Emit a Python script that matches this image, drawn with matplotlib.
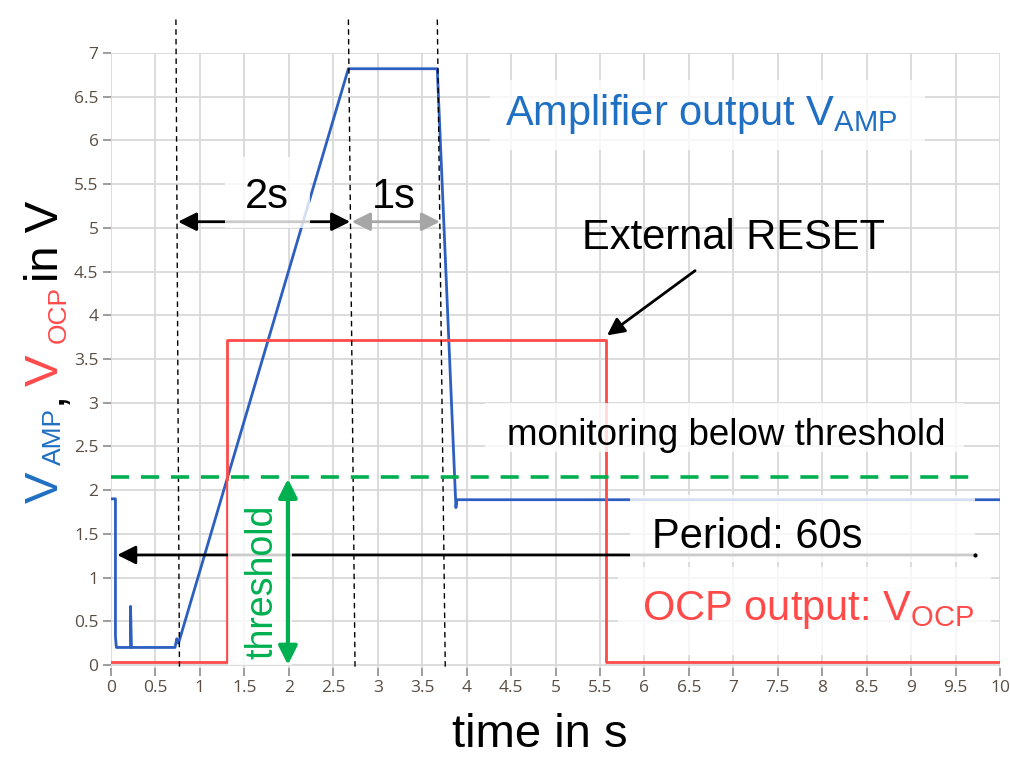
import matplotlib
matplotlib.use('Agg')
import matplotlib.pyplot as plt
from matplotlib.patches import Rectangle

plt.rcParams['font.family'] = ['Liberation Sans', 'DejaVu Sans']
plt.rcParams['mathtext.fontset'] = 'custom'
plt.rcParams['mathtext.rm'] = 'Liberation Sans'
plt.rcParams['mathtext.it'] = 'Liberation Sans:italic'

# amplifier output V_AMP (blue trace)
t_amp = [0, 0.05, 0.05, 0.06, 0.22, 0.22, 0.23, 0.72, 0.74, 0.76, 2.67, 3.67, 3.88, 3.89, 10]
v_amp = [1.9, 1.9, 0.33, 0.2, 0.2, 0.67, 0.2, 0.2, 0.3, 0.25, 6.82, 6.82, 1.8, 1.89, 1.89]

# OCP output V_OCP (red trace)
t_ocp = [0, 1.31, 1.31, 5.57, 5.57, 10]
v_ocp = [0.03, 0.03, 3.72, 3.72, 0.03, 0.03]

threshold = 2.15
# dashed time markers (top / bottom x, slightly slanted in the original)
mark_top = [0.73, 2.67, 3.67]
mark_bot = [0.77, 2.745, 3.76]

blue = '#2d5fc0'
blue_txt = '#1f6fc2'
red = '#ff4a4a'
green = '#00b050'

fig = plt.figure(figsize=(10.1, 7.57), dpi=100)
ax = fig.add_axes([111/1010, 89/757, 889/1010, 615/757])

ax.set_xlim(0, 10)
ax.set_ylim(-0.035, 7)
ax.set_xticks([i * 0.5 for i in range(21)])
ax.set_yticks([i * 0.5 for i in range(15)])
ax.set_xticklabels(['%g' % (i * 0.5) for i in range(21)])
ax.set_yticklabels(['%g' % (i * 0.5) for i in range(15)])
for s in ax.spines.values():
    s.set_visible(False)
ax.grid(True, color='#d9d9d9', lw=1.3, zorder=0)
ax.set_axisbelow(True)
ax.tick_params(length=6, width=1.2, color='#8c8c8c', labelcolor='#5a4e44',
               labelsize=12.5, pad=3)
for lab in ax.get_xticklabels() + ax.get_yticklabels():
    lab.set_family('Open Sans')

# traces
ax.plot(t_amp, v_amp, color=blue, lw=2, zorder=2)
ax.plot(t_ocp, v_ocp, color=red, lw=2, zorder=2)

# threshold line
ax.plot([0, 9.78], [threshold, threshold], color=green, lw=2.6,
        dashes=(5, 3.3), zorder=5)

# vertical dashed markers, extending above the axes
for xt, xb in zip(mark_top, mark_bot):
    ax.plot([xb, xt], [-0.02, 7.43], color='black', lw=1, dashes=(4, 3),
            clip_on=False, zorder=4)

# semi-transparent text boxes
boxes = [(4.26, 5.89, 4.9, 0.8), (1.28, 5.0, 0.96, 0.81), (1.32, 0.0, 0.72, 2.1),
         (4.21, 2.44, 5.39, 0.56), (5.84, 1.18, 3.88, 0.76), (5.70, 0.11, 4.2, 1.01)]
for x0, y0, w, h in boxes:
    ax.add_patch(Rectangle((x0, y0), w, h, facecolor='white', edgecolor='none',
                           alpha=0.8, zorder=3))

# arrows
def arrow(p0, p1, color, style='-|>', lw=2, z=2.5, ms=28):
    ax.annotate('', xy=p1, xytext=p0,
                arrowprops=dict(arrowstyle=style, color=color, lw=lw,
                                mutation_scale=ms, shrinkA=0, shrinkB=0),
                zorder=z)

arrow((0.754, 5.07), (2.69, 5.07), 'black', style='<|-|>')
arrow((2.71, 5.07), (3.70, 5.07), '#a6a6a6', style='<|-|>')
arrow((9.72, 1.258), (0.07, 1.258), 'black')
arrow((6.57, 4.51), (5.58, 3.77), 'black', z=5, ms=26)
arrow((1.99, threshold - 0.02), (1.99, 0.0), green, style='<|-|>', lw=3, z=5, ms=28)
ax.plot([9.72], [1.258], 'o', color='black', ms=2, zorder=5)

# annotation texts
ax.text(4.43, 6.18, 'Amplifier output V$_{\\mathrm{AMP}}$', color=blue_txt,
        fontsize=30, va='baseline', zorder=6)
ax.text(5.30, 4.76, 'External RESET', color='black', fontsize=30,
        va='baseline', zorder=6)
ax.text(1.755, 5.23, '2s', color='black', fontsize=30, ha='center',
        va='baseline', zorder=6)
ax.text(3.18, 5.23, '1s', color='black', fontsize=30, ha='center',
        va='baseline', zorder=6)
ax.text(4.455, 2.52, 'monitoring below threshold', color='black', fontsize=26.5,
        va='baseline', zorder=6)
ax.text(6.085, 1.34, 'Period: 60s', color='black', fontsize=30,
        va='baseline', zorder=6)
ax.text(5.97, 0.515, 'OCP output: V$_{\\mathrm{OCP}}$', color=red, fontsize=30,
        va='baseline', zorder=6)
ax.text(1.7, 0.95, 'threshold', color=green, fontsize=27, rotation=90,
        ha='center', va='center', zorder=6)

# x label
fig.text(540/1010, 10/757, 'time in s', fontsize=34, ha='center', va='baseline')

# multi-coloured y label, built from rotated pieces:
# (text, colour, size, baseline x px, start y px)
ylab = [('V', blue_txt, 34, 58, 503), ('AMP', blue_txt, 19, 61, 465),
        (',', 'black', 34, 61, 404), ('V', red, 34, 58, 386),
        ('OCP', red, 19, 66, 343), ('in V', 'black', 34, 58, 282)]
for txt, col, fs, xpix, ypix in ylab:
    fig.text(xpix/1010, 1 - ypix/757, txt, color=col, fontsize=fs, rotation=90,
             rotation_mode='anchor', ha='left', va='baseline')

fig.savefig('out.png', dpi=100)
